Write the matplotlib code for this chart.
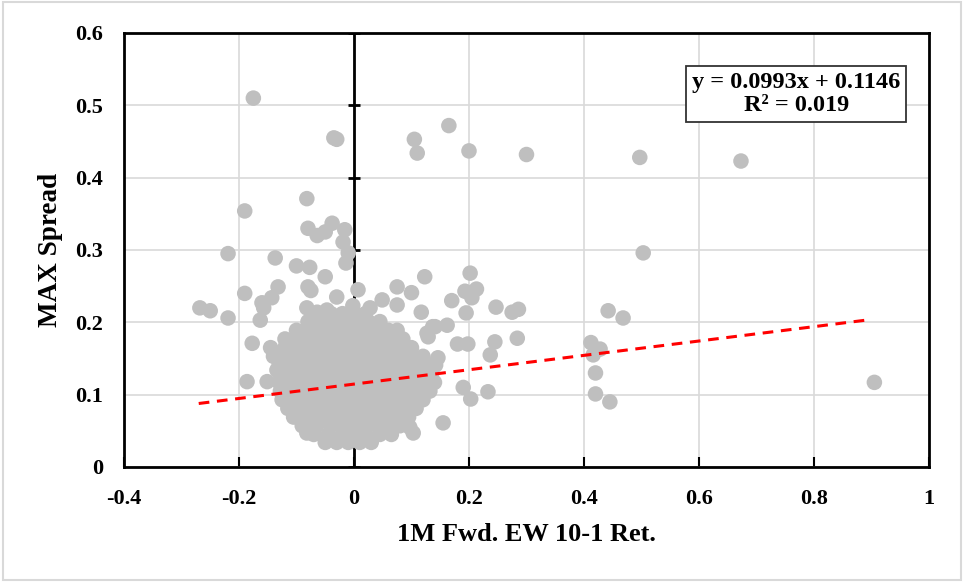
import matplotlib.pyplot as plt
import matplotlib.patches as patches
import numpy as np

plt.rcParams['font.family'] = ['Liberation Serif', 'DejaVu Serif']
plt.rcParams['font.weight'] = 'bold'

# regression shown in the chart
slope = 0.0993
intercept = 0.1146
r2 = 0.019
fit_x = [-0.27, 0.9]

# scattered points
outlier_x = [-0.175, -0.035, -0.03, 0.105, 0.11, 0.165, 0.2, 0.3, 0.497, 0.673,
             -0.082, -0.19, -0.08, -0.064, -0.05, -0.038, -0.016, -0.019, -0.01, -0.014,
             -0.219, -0.137, -0.1, -0.077, 0.503, 0.123, 0.202,
             -0.08, -0.075, -0.05, 0.007, -0.03, -0.082, -0.064, -0.047, -0.002, 0.028,
             -0.19, -0.16, -0.157, -0.163, -0.132, -0.143, -0.268, -0.25, -0.219,
             0.049, 0.075, 0.1, 0.075, 0.117, 0.193, 0.205, 0.213, 0.17, 0.195,
             0.247, 0.275, 0.286, 0.442, 0.468,
             0.412, 0.428, 0.416, 0.42, 0.42, 0.445,
             0.284, 0.245, 0.237, 0.18, 0.198,
             0.19, 0.203, 0.233, 0.155, 0.103, 0.097, -0.082,
             -0.177, -0.186, -0.151, 0.905,
             0.127, 0.137, 0.162, 0.141, 0.129, 0.146, -0.134]
outlier_y = [0.51, 0.455, 0.453, 0.453, 0.434, 0.472, 0.437, 0.432, 0.428, 0.423,
             0.371, 0.354, 0.33, 0.32, 0.325, 0.337, 0.328, 0.311, 0.296, 0.282,
             0.295, 0.289, 0.278, 0.276, 0.296, 0.263, 0.268,
             0.249, 0.244, 0.263, 0.245, 0.235, 0.22, 0.214, 0.217, 0.223, 0.22,
             0.24, 0.227, 0.22, 0.203, 0.249, 0.234, 0.22, 0.216, 0.206,
             0.231, 0.249, 0.241, 0.224, 0.214, 0.243, 0.234, 0.246, 0.23, 0.213,
             0.221, 0.214, 0.218, 0.216, 0.206,
             0.172, 0.163, 0.155, 0.13, 0.101, 0.09,
             0.178, 0.173, 0.155, 0.17, 0.17,
             0.11, 0.094, 0.104, 0.061, 0.047, 0.055, 0.047,
             0.171, 0.118, 0.118, 0.117,
             0.185, 0.194, 0.196, 0.194, 0.18, 0.151, 0.134]

# dense cloud around the origin, row by row
cloud_rows = {
    0.034: [-0.05, -0.03, -0.01, 0.01, 0.03],
    0.045: [-0.07, -0.045, -0.02, 0.0, 0.02, 0.045, 0.065],
    0.057: [-0.09, -0.065, -0.04, -0.02, 0.0, 0.02, 0.04, 0.06, 0.08],
    0.069: [-0.105, -0.08, -0.06, -0.04, -0.02, 0.0, 0.02, 0.04, 0.06, 0.08, 0.095],
    0.081: [-0.115, -0.09, -0.07, -0.05, -0.03, -0.01, 0.01, 0.03, 0.05, 0.07, 0.09, 0.108],
    0.093: [-0.125, -0.1, -0.08, -0.06, -0.04, -0.02, 0.0, 0.02, 0.04, 0.06, 0.08, 0.1, 0.12],
    0.105: [-0.128, -0.105, -0.085, -0.065, -0.045, -0.025, -0.005, 0.015, 0.035, 0.055, 0.075, 0.095, 0.115, 0.132],
    0.117: [-0.13, -0.11, -0.09, -0.07, -0.05, -0.03, -0.01, 0.01, 0.03, 0.05, 0.07, 0.09, 0.11, 0.13, 0.14],
    0.129: [-0.128, -0.105, -0.085, -0.065, -0.045, -0.025, -0.005, 0.015, 0.035, 0.055, 0.075, 0.095, 0.115, 0.135],
    0.141: [-0.13, -0.11, -0.09, -0.07, -0.05, -0.03, -0.01, 0.01, 0.03, 0.05, 0.07, 0.09, 0.11, 0.13, 0.142],
    0.153: [-0.14, -0.12, -0.1, -0.08, -0.06, -0.04, -0.02, 0.0, 0.02, 0.04, 0.06, 0.08, 0.1, 0.12],
    0.165: [-0.145, -0.12, -0.1, -0.08, -0.06, -0.04, -0.02, 0.0, 0.02, 0.04, 0.06, 0.08, 0.1],
    0.177: [-0.12, -0.095, -0.075, -0.055, -0.035, -0.015, 0.005, 0.025, 0.045, 0.065, 0.085],
    0.189: [-0.1, -0.08, -0.06, -0.04, -0.02, 0.0, 0.02, 0.04, 0.06, 0.075],
    0.201: [-0.08, -0.055, -0.035, -0.015, 0.005, 0.025, 0.045],
    0.212: [-0.04, -0.02, 0.0, 0.02],
}

xticks = [-0.4, -0.2, 0, 0.2, 0.4, 0.6, 0.8, 1]
yticks = [0, 0.1, 0.2, 0.3, 0.4, 0.5, 0.6]

cloud_x = [x for y, xs in cloud_rows.items() for x in xs]
cloud_y = [y for y, xs in cloud_rows.items() for x in xs]
px = outlier_x + cloud_x
py = outlier_y + cloud_y

fig = plt.figure(figsize=(9.64, 5.82), dpi=100)
ax = fig.add_axes([0.1286, 0.1976, 0.8351, 0.7457])

ax.set_xlim(-0.4, 1)
ax.set_ylim(0, 0.6)
ax.set_xticks(xticks)
ax.set_yticks(yticks)
ax.set_xticklabels(['-0.4', '-0.2', '0', '0.2', '0.4', '0.6', '0.8', '1'])
ax.set_yticklabels(['0', '0.1', '0.2', '0.3', '0.4', '0.5', '0.6'])
ax.grid(True, color='#d9d9d9', lw=1.2, zorder=0)
ax.set_axisbelow(True)
ax.tick_params(axis='x', direction='in', length=7, width=1.5, pad=16, labelsize=16)
ax.tick_params(axis='y', length=0, pad=15, labelsize=16)
for s in ax.spines.values():
    s.set_linewidth(2)
    s.set_zorder(5)

# vertical axis crossing at x = 0
ax.axvline(0, color='black', lw=2, zorder=1.5)
ax.plot([0] * len(yticks), yticks, ls='none', marker='_', ms=9, mew=2,
        color='black', zorder=1.5)

ax.scatter(px, py, s=125, color='#bfbfbf', edgecolors='none', zorder=3)

fx = np.array(fit_x)
ax.plot(fx, slope * fx + intercept, color='#ff0000', lw=2.2, ls=(0, (3.5, 2.5)), zorder=4)

ax.text(0.835, 0.859, f'y = {slope}x + {intercept}\nR² = {r2}', transform=ax.transAxes,
        ha='center', va='center', fontsize=17.5, fontweight='bold', linespacing=1.15,
        bbox=dict(boxstyle='square,pad=0.25', fc='white', ec='#333333', lw=1.3), zorder=6)

ax.set_xlabel('1M Fwd. EW 10-1 Ret.', fontsize=19, fontweight='bold', labelpad=10)
ax.set_ylabel('MAX Spread', fontsize=19.5, fontweight='bold', labelpad=9)

fig.patches.append(patches.Rectangle((0.003, 0.004), 0.994, 0.992, transform=fig.transFigure,
                                     fill=False, ec='#d9d9d9', lw=1.5))

fig.savefig('out.png', dpi=100)
